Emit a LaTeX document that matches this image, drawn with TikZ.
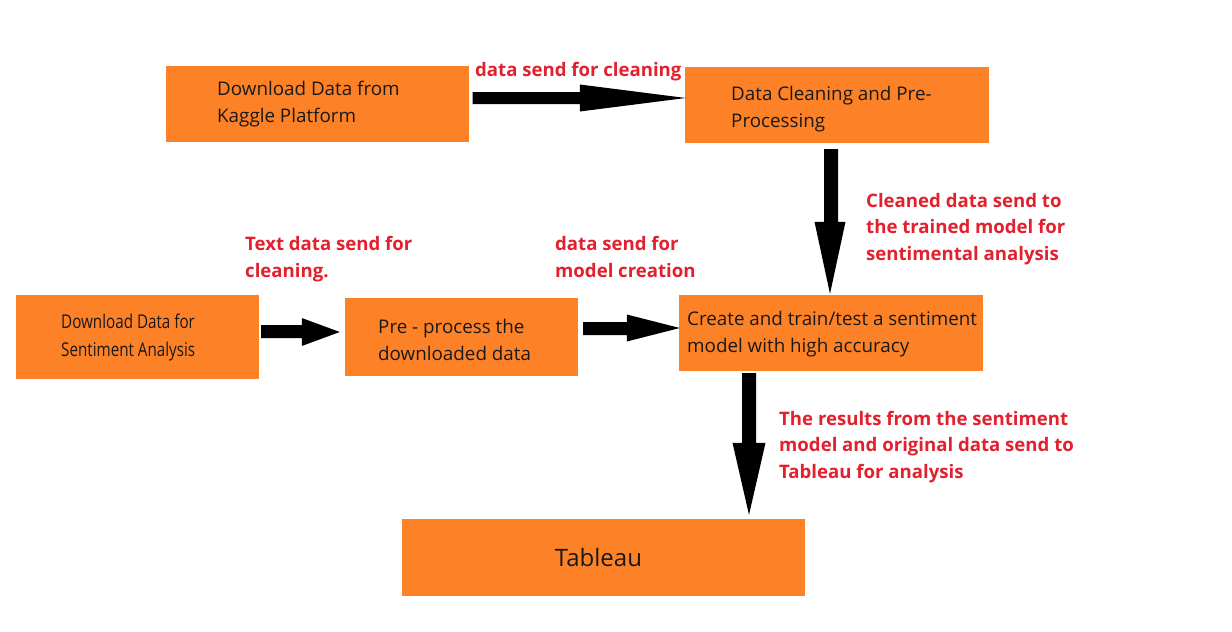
\documentclass[tikz,border=0pt]{standalone}
\usepackage{fontspec}
\setmainfont{Open Sans}
\usetikzlibrary{calc}
\definecolor{boxor}{RGB}{253,130,39}
\definecolor{labred}{RGB}{226,32,46}
% block arrows: start, end, shaft half width, head half width, head length
\newcommand{\myHarrow}[5]{\fill[black] let \p1=(#1), \p2=(#2) in
  (\x1,\y1+#3) -- (\x2-#5,\y1+#3) -- (\x2-#5,\y2+#4) -- (\x2,\y2) --
  (\x2-#5,\y2-#4) -- (\x2-#5,\y1-#3) -- (\x1,\y1-#3) -- cycle;}
\newcommand{\myVarrow}[5]{\fill[black] let \p1=(#1), \p2=(#2) in
  (\x1+#3,\y1) -- (\x1+#3,\y2+#5) -- (\x2+#4,\y2+#5) -- (\x2,\y2) --
  (\x2-#4,\y2+#5) -- (\x1-#3,\y2+#5) -- (\x1-#3,\y1) -- cycle;}
\begin{document}
\begin{tikzpicture}[x=1pt,y=-1pt,
  box/.style={fill=boxor,draw=none,inner sep=0pt},
  boxtext/.style={anchor=base west,align=left,inner sep=0pt,text=black!90,font=\fontsize{18.8}{27}\selectfont},
  lab/.style={anchor=base west,align=left,inner sep=0pt,text=labred,font=\fontsize{18.6}{26.5}\selectfont\bfseries}
]
\useasboundingbox[fill=white] (0,0) rectangle (1232,632);
% boxes
\node[box,minimum width=303pt,minimum height=76pt] (b1) at (317.5,104) {};
\node[box,minimum width=304pt,minimum height=76pt] (b2) at (837,105) {};
\node[box,minimum width=243pt,minimum height=84pt] (b3) at (137.5,337) {};
\node[box,minimum width=233pt,minimum height=78pt] (b4) at (461.5,337) {};
\node[box,minimum width=304pt,minimum height=76pt] (b5) at (831,333) {};
\node[box,minimum width=403pt,minimum height=77pt] (b6) at (603.5,557.5) {};
% box texts (base anchor = last line baseline)
\node[boxtext] (t1) at (217,122) {Download Data from\\Kaggle Platform};
\node[boxtext] (t2) at (731,127) {Data Cleaning and Pre-\\Processing};
\node[boxtext,font=\fontsize{19}{28}\selectfont] (t3) at (61,356) {\scalebox{0.8}[1]{Download Data for}\\\scalebox{0.8}[1]{Sentiment Analysis}};
\node[boxtext] (t4) at (378,360) {Pre - process the\\downloaded data};
\node[boxtext] (t5) at (687,352) {Create and train/test a sentiment\\model with high accuracy};
\node[anchor=center,inner sep=0pt,text=black!90,font=\fontsize{24}{28}\selectfont] (t6) at ([xshift=-5]b6.center) {Tableau};
% labels
\node[lab] (l1) at (475,76) {data send for cleaning};
\node[lab] (l2) at (866,260) {Cleaned data send to\\the trained model for\\sentimental analysis};
\node[lab] (l3) at (245,277) {Text data send for\\cleaning.};
\node[lab] (l4) at (555,277) {data send for\\model creation};
\node[lab] (l5) at (779,478) {The results from the sentiment\\model and original data send to\\Tableau for analysis};
% arrows
\myHarrow{[shift={(3.5,-6)}]b1.east}{[shift={(1,-7)}]b2.west}{6pt}{13.5pt}{106pt}
\myVarrow{[shift={(-6,6)}]b2.south}{[shift={(-1,-1)}]b5.north}{7pt}{15.5pt}{72pt}
\myHarrow{[shift={(2,-5.5)}]b3.east}{[shift={(-5,-5)}]b4.west}{6.5pt}{14pt}{38pt}
\myHarrow{[shift={(5,-8.5)}]b4.east}{[shift={(1,-5)}]b5.west}{6.5pt}{13.5pt}{53pt}
\myVarrow{[shift={(-82,2)}]b5.south}{[shift={(145.5,-4)}]b6.north}{7pt}{16.5pt}{72pt}
\end{tikzpicture}
\end{document}
